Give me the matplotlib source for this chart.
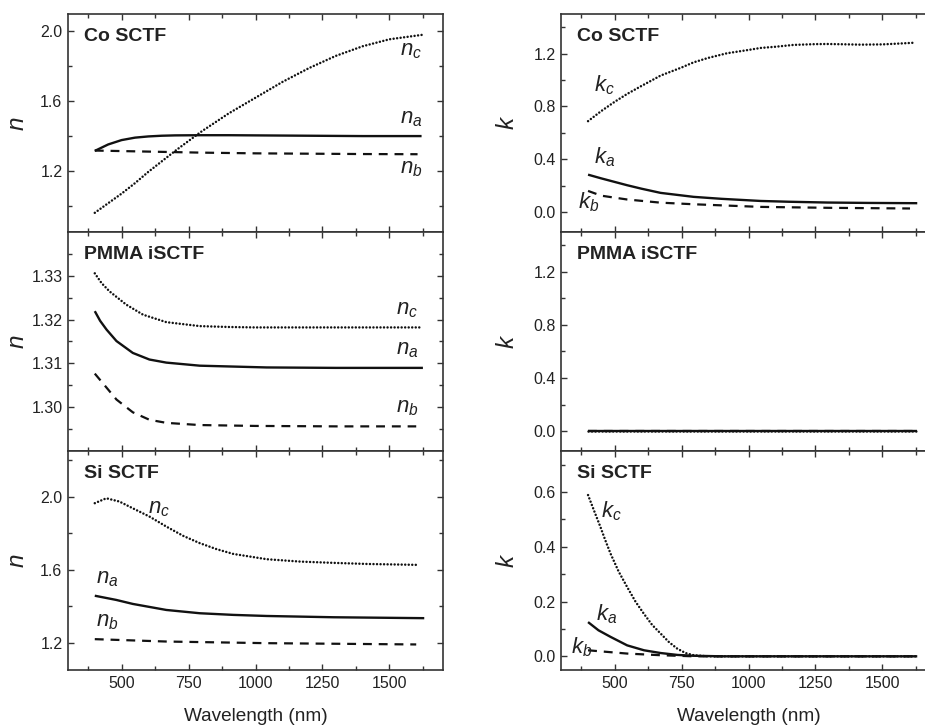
import matplotlib
matplotlib.use("Agg")
import matplotlib.pyplot as plt
from matplotlib.ticker import MultipleLocator, FormatStrFormatter

plt.rcParams['font.family'] = ['Liberation Sans', 'DejaVu Sans']
plt.rcParams['mathtext.fontset'] = 'custom'
plt.rcParams['mathtext.it'] = 'Liberation Sans:italic'
plt.rcParams['mathtext.rm'] = 'Liberation Sans'

# ---------------- data ----------------
# Co SCTF, n
co_na_wl = [400, 450, 500, 550, 600, 650, 700, 800, 900, 1000, 1100, 1200, 1300, 1400, 1500, 1620]
co_na = [1.315, 1.352, 1.377, 1.391, 1.398, 1.402, 1.404, 1.405, 1.405, 1.404, 1.403, 1.402, 1.401, 1.400, 1.400, 1.400]
co_nb_wl = [400, 500, 600, 700, 800, 900, 1000, 1200, 1400, 1605]
co_nb = [1.317, 1.314, 1.311, 1.308, 1.305, 1.303, 1.301, 1.299, 1.297, 1.296]
co_nc_wl = [400, 450, 500, 550, 600, 650, 700, 750, 800, 900, 1000, 1100, 1200, 1300, 1400, 1500, 1620]
co_nc = [0.96, 1.015, 1.07, 1.13, 1.195, 1.255, 1.315, 1.372, 1.428, 1.53, 1.62, 1.71, 1.79, 1.86, 1.915, 1.955, 1.98]

# PMMA iSCTF, n
pm_na_wl = [400, 420, 444, 481, 542, 604, 667, 792, 1042, 1300, 1625]
pm_na = [1.3219, 1.3197, 1.3177, 1.3151, 1.3124, 1.3109, 1.3102, 1.3095, 1.3091, 1.3090, 1.3090]
pm_nb_wl = [400, 444, 481, 542, 604, 667, 792, 1000, 1300, 1600]
pm_nb = [1.3077, 1.3045, 1.3018, 1.2989, 1.2972, 1.2965, 1.2960, 1.2958, 1.2957, 1.2957]
pm_nc_wl = [400, 425, 455, 517, 580, 667, 792, 900, 1000, 1200, 1400, 1620]
pm_nc = [1.3305, 1.3283, 1.3264, 1.3234, 1.3211, 1.3194, 1.3185, 1.3183, 1.3182, 1.3182, 1.3182, 1.3182]

# Si SCTF, n
si_na_wl = [400, 480, 542, 667, 792, 917, 1042, 1292, 1630]
si_na = [1.457, 1.434, 1.412, 1.379, 1.361, 1.352, 1.346, 1.339, 1.334]
si_nb_wl = [400, 667, 1042, 1600]
si_nb = [1.219, 1.206, 1.197, 1.190]
si_nc_wl = [400, 443, 492, 542, 605, 667, 730, 792, 855, 917, 1042, 1167, 1292, 1417, 1605]
si_nc = [1.964, 1.991, 1.973, 1.936, 1.890, 1.836, 1.785, 1.745, 1.712, 1.686, 1.657, 1.644, 1.637, 1.631, 1.626]

# Co SCTF, k
co_ka_wl = [401, 450, 547, 600, 672, 795, 900, 1045, 1150, 1294, 1450, 1630]
co_ka = [0.284, 0.256, 0.204, 0.178, 0.146, 0.116, 0.101, 0.085, 0.079, 0.073, 0.070, 0.068]
co_kb_wl = [401, 450, 547, 672, 795, 1045, 1300, 1603]
co_kb = [0.161, 0.125, 0.096, 0.072, 0.060, 0.040, 0.033, 0.028]
co_kc_wl = [401, 450, 500, 547, 600, 672, 750, 795, 850, 920, 1000, 1045, 1100, 1168, 1250, 1294, 1350, 1418, 1500, 1560, 1623]
co_kc = [0.689, 0.765, 0.835, 0.895, 0.955, 1.034, 1.095, 1.134, 1.168, 1.203, 1.228, 1.243, 1.252, 1.266, 1.272, 1.273, 1.271, 1.268, 1.270, 1.276, 1.283]

# PMMA iSCTF, k
pm_k_wl = [400, 1630]
pm_ka = [0.0, 0.0]
pm_kb = [0.0, 0.0]
pm_kc = [0.0, 0.0]

# Si SCTF, k
si_ka_wl = [401, 440, 485, 547, 610, 672, 735, 795, 900, 1630]
si_ka = [0.125, 0.095, 0.071, 0.040, 0.022, 0.012, 0.005, 0.002, 0.0, 0.0]
si_kb_wl = [401, 547, 672, 795, 1630]
si_kb = [0.022, 0.010, 0.004, 0.0, 0.0]
si_kc_wl = [401, 425, 447, 465, 485, 515, 547, 578, 609, 640, 672, 703, 734, 765, 795, 850, 1630]
si_kc = [0.589, 0.528, 0.473, 0.425, 0.375, 0.310, 0.253, 0.200, 0.156, 0.115, 0.083, 0.052, 0.028, 0.012, 0.004, 0.0, 0.0]

titles = ["Co SCTF", "PMMA iSCTF", "Si SCTF"]

# ---------------- figure ----------------
fig = plt.figure(figsize=(9.25, 7.27), dpi=100)
W, H = 925.0, 727.0
rows_px = [(14, 232), (232, 451), (451, 670)]
cols_px = [(68, 443), (561, 936)]

axes = [[None, None] for _ in range(3)]
for r, (t, b) in enumerate(rows_px):
    for c, (l, rr) in enumerate(cols_px):
        ax = fig.add_axes([l / W, 1 - b / H, (rr - l) / W, (b - t) / H])
        axes[r][c] = ax

ink = '#111111'
solid = dict(color=ink, lw=1.7, solid_capstyle='butt')
dashed = dict(color=ink, lw=1.6, linestyle=(0, (4.0, 3.1)))
dotted = dict(color=ink, lw=1.8, linestyle=(0, (0.01, 1.4)), dash_capstyle='round')

# n panels
ax = axes[0][0]
ax.plot(co_nc_wl, co_nc, **dotted)
ax.plot(co_nb_wl, co_nb, **dashed)
ax.plot(co_na_wl, co_na, **solid)
ax = axes[1][0]
ax.plot(pm_nc_wl, pm_nc, **dotted)
ax.plot(pm_nb_wl, pm_nb, **dashed)
ax.plot(pm_na_wl, pm_na, **solid)
ax = axes[2][0]
ax.plot(si_nc_wl, si_nc, **dotted)
ax.plot(si_nb_wl, si_nb, **dashed)
ax.plot(si_na_wl, si_na, **solid)

# k panels
ax = axes[0][1]
ax.plot(co_kc_wl, co_kc, **dotted)
ax.plot(co_kb_wl, co_kb, **dashed)
ax.plot(co_ka_wl, co_ka, **solid)
ax = axes[1][1]
ax.plot(pm_k_wl, pm_kc, **dotted)
ax.plot(pm_k_wl, pm_kb, **dashed)
ax.plot(pm_k_wl, pm_ka, **solid)
ax = axes[2][1]
ax.plot(si_kc_wl, si_kc, **dotted)
ax.plot(si_kb_wl, si_kb, **dashed)
ax.plot(si_ka_wl, si_ka, **solid)

# axis limits and ticks
ylims = [[(0.85, 2.10), (-0.15, 1.50)],
         [(1.2901, 1.3399), (-0.15, 1.50)],
         [(1.05, 2.25), (-0.05, 0.75)]]
ymaj = [[0.4, 0.4], [0.01, 0.4], [0.4, 0.2]]
yfmt = [["%.1f", "%.1f"], ["%.2f", "%.1f"], ["%.1f", "%.1f"]]

spine_col = '#333333'
for r in range(3):
    for c in range(2):
        ax = axes[r][c]
        ax.set_xlim(300, 1700)
        ax.set_ylim(*ylims[r][c])
        ax.xaxis.set_major_locator(MultipleLocator(250))
        ax.xaxis.set_minor_locator(MultipleLocator(125))
        ax.yaxis.set_major_locator(MultipleLocator(ymaj[r][c]))
        ax.yaxis.set_minor_locator(MultipleLocator(ymaj[r][c] / 2))
        ax.yaxis.set_major_formatter(FormatStrFormatter(yfmt[r][c]))
        ax.tick_params(which='both', direction='in', top=True, right=True,
                       color=spine_col, width=1.0, labelsize=11.5,
                       labelcolor='#222222', pad=4)
        ax.tick_params(which='major', length=4.5)
        ax.tick_params(which='minor', length=3)
        for sp in ax.spines.values():
            sp.set_color(spine_col)
            sp.set_linewidth(1.2)
        if r < 2:
            ax.tick_params(labelbottom=False)
        else:
            ax.set_xlabel("Wavelength (nm)", fontsize=13.7, color='#222222', labelpad=12.5)
        ax.text(0.042, 0.895, titles[r], transform=ax.transAxes, fontsize=14,
                fontweight='bold', color='#222222', va='center', ha='left')
        if c == 0:
            ax.set_ylabel("n", fontsize=17.5, fontstyle='italic', color='#222222',
                          va='center', ha='center')
            ax.yaxis.set_label_coords(-0.135, 0.5)
        else:
            ax.set_ylabel("k", fontsize=17.5, fontstyle='italic', color='#222222',
                          va='center', ha='center')
            ax.yaxis.set_label_coords(-0.145, 0.5)

# curve labels (position: left edge, baseline)
lab = dict(fontsize=16, color='#222222', ha='left', va='baseline')
axes[0][0].text(1539, 1.865, r"$n_c$", **lab)
axes[0][0].text(1539, 1.472, r"$n_a$", **lab)
axes[0][0].text(1539, 1.187, r"$n_b$", **lab)
axes[1][0].text(1523, 1.3211, r"$n_c$", **lab)
axes[1][0].text(1523, 1.3121, r"$n_a$", **lab)
axes[1][0].text(1523, 1.2988, r"$n_b$", **lab)
axes[2][0].text(599, 1.909, r"$n_c$", **lab)
axes[2][0].text(405, 1.525, r"$n_a$", **lab)
axes[2][0].text(405, 1.288, r"$n_b$", **lab)
axes[0][1].text(423, 0.915, r"$k_c$", **lab)
axes[0][1].text(423, 0.367, r"$k_a$", **lab)
axes[0][1].text(363, 0.028, r"$k_b$", **lab)
axes[2][1].text(448, 0.509, r"$k_c$", **lab)
axes[2][1].text(429, 0.132, r"$k_a$", **lab)
axes[2][1].text(339, 0.010, r"$k_b$", **lab)

fig.savefig("out.png", dpi=100)
